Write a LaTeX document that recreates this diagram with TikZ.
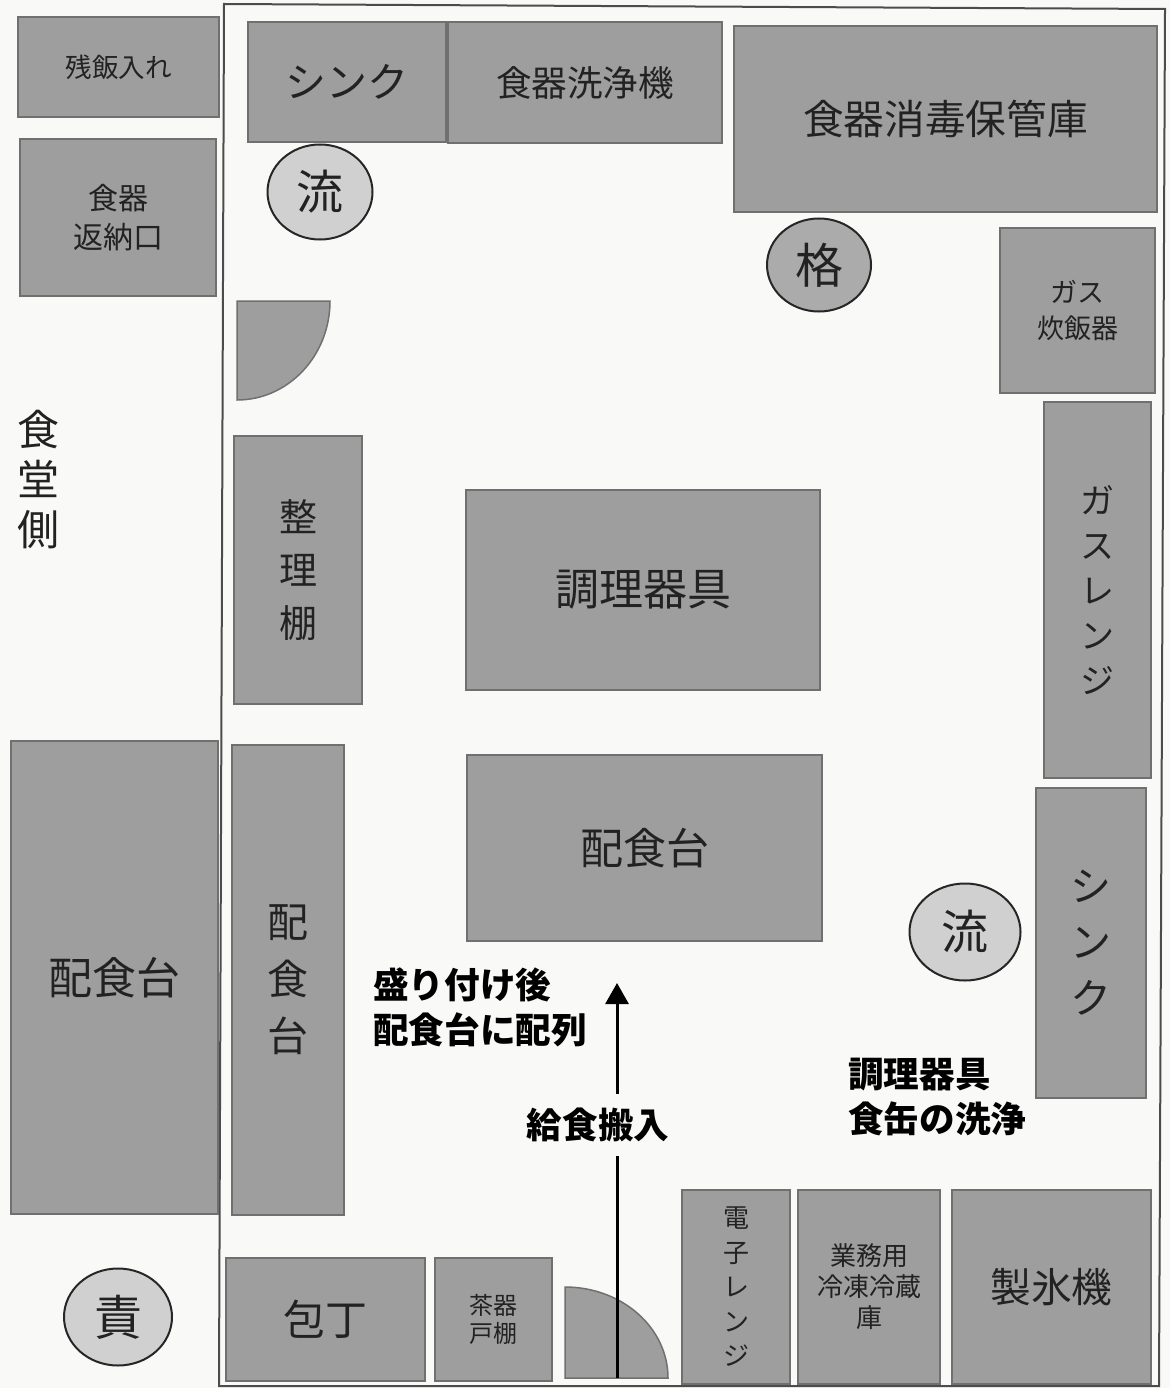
\documentclass[tikz,border=0pt]{standalone}
\usepackage{fontspec}
\setmainfont{Noto Sans CJK JP}
\usetikzlibrary{arrows.meta,shapes.geometric}
\definecolor{paper}{HTML}{F9F9F7}
\definecolor{boxfill}{HTML}{9E9E9E}
\definecolor{boxline}{HTML}{707070}
\definecolor{circlight}{HTML}{D0D0D0}
\definecolor{circdark}{HTML}{ABABAB}
\definecolor{ink}{HTML}{222222}
\tikzset{
  x=1pt,y=-1pt,
  unit/.style={draw=boxline,fill=boxfill,line width=1.5pt},
  lbl/.style={text=ink,align=center,inner sep=0pt},
  round/.style={ellipse,draw=black!85,line width=2pt,text=ink,inner sep=0pt},
  note/.style={text=black,align=left,inner sep=0pt,font=\fontsize{35.6}{45}\selectfont\bfseries},
  wall/.style={draw=black!70,line width=2pt},
  flow/.style={draw=black,line width=3pt},
}
% name, x0,y0,x1,y1, font size, line skip, text
\newcommand{\unitbox}[8]{%
  \path[unit] (#2,#3) rectangle (#4,#5);
  \node[lbl,font=\fontsize{#6}{#7}\selectfont] (#1) at ({(#2+#4)/2},{(#3+#5)/2}) {#8};
}
\begin{document}
\begin{tikzpicture}
\useasboundingbox (0,0) rectangle (1170,1388);
\fill[paper] (0,0) rectangle (1170,1388);
\path[wall] (224,4) -- (1165,9) -- (1159,1386) -- (219,1386) -- cycle;

\unitbox{zan}{18}{17}{219}{117}{26.5}{30}{残飯入れ}
\unitbox{hen}{20}{139}{216}{296}{30}{39}{食器\\返納口}
\unitbox{sink}{248}{22}{446}{142}{41}{46}{シンク}
\unitbox{sen}{448}{22}{722}{143}{35.6}{40}{食器洗浄機}
\unitbox{sho}{734}{26}{1157}{212}{40.7}{46}{食器消毒保管庫}
\unitbox{gasu}{1000}{228}{1155}{393}{27}{36}{ガス\\炊飯器}
\unitbox{range}{1044}{402}{1151}{778}{34}{45}{ガ\\ス\\レ\\ン\\ジ}
\unitbox{seiri}{234}{436}{362}{704}{38}{53}{整\\理\\棚}
\unitbox{chou}{466}{490}{820}{690}{44}{50}{調理器具}
\unitbox{hai}{467}{755}{822}{941}{43}{48}{配食台}
\unitbox{haileft}{11}{741}{218}{1214}{44}{48}{配食台}
\unitbox{haivert}{232}{745}{344}{1215}{41}{57}{配\\食\\台}
\unitbox{sinkv}{1036}{788}{1146}{1098}{41}{56}{シ\\ン\\ク}
\unitbox{hou}{226}{1258}{425}{1381}{42}{48}{包丁}
\unitbox{cha}{435}{1258}{552}{1381}{24}{28}{茶器\\戸棚}
\unitbox{den}{682}{1190}{790}{1384}{26}{34.5}{電\\子\\レ\\ン\\ジ}
\unitbox{gyou}{798}{1190}{940}{1384}{26}{31}{業務用\\冷凍冷蔵\\庫}
\unitbox{sei}{952}{1190}{1151}{1384}{40.7}{44}{製氷機}

\node[round,fill=circlight,minimum width=105pt,minimum height=95pt,font=\fontsize{47}{48}\selectfont] (ryu1) at (320,192) {流};
\node[round,fill=circdark,minimum width=104pt,minimum height=93pt,font=\fontsize{48}{48}\selectfont] (kaku) at (819,265) {格};
\node[round,fill=circlight,minimum width=111pt,minimum height=97pt,font=\fontsize{47}{48}\selectfont] (ryu2) at (965,932) {流};
\node[round,fill=circlight,minimum width=108pt,minimum height=97pt,font=\fontsize{48}{48}\selectfont] (seki) at (118,1317) {責};

\node[lbl,font=\fontsize{42}{50}\selectfont] (shoku) at (38,480) {食\\堂\\側};

% doors
\path[unit] (237,301) -- (330,301) .. controls (330,355.7) and (288.4,400) .. (237,400) -- cycle;
\path[unit] (565,1378) -- (565,1287) .. controls (621.9,1287) and (668,1327.7) .. (668,1378) -- cycle;

% notes
\node[note,anchor=west] (moritsuke) at (373,1007) {盛り付け後\\配食台に配列};
\node[note,anchor=west] (senjou) at (848,1097) {調理器具\\食缶の洗浄};
\node[note,font=\fontsize{35.6}{36}\selectfont\bfseries,inner ysep=14pt] (hannyu) at (598,1125) {給食搬入};

% delivery route
\coordinate (routeStart) at (617,1378);
\coordinate (routeTip) at (617,983);
\draw[flow] (routeStart) -- (routeStart |- hannyu.south);
\draw[flow,-{Triangle[length=21pt,width=23pt]}] (routeStart |- hannyu.north) -- (routeTip);
\end{tikzpicture}
\end{document}
